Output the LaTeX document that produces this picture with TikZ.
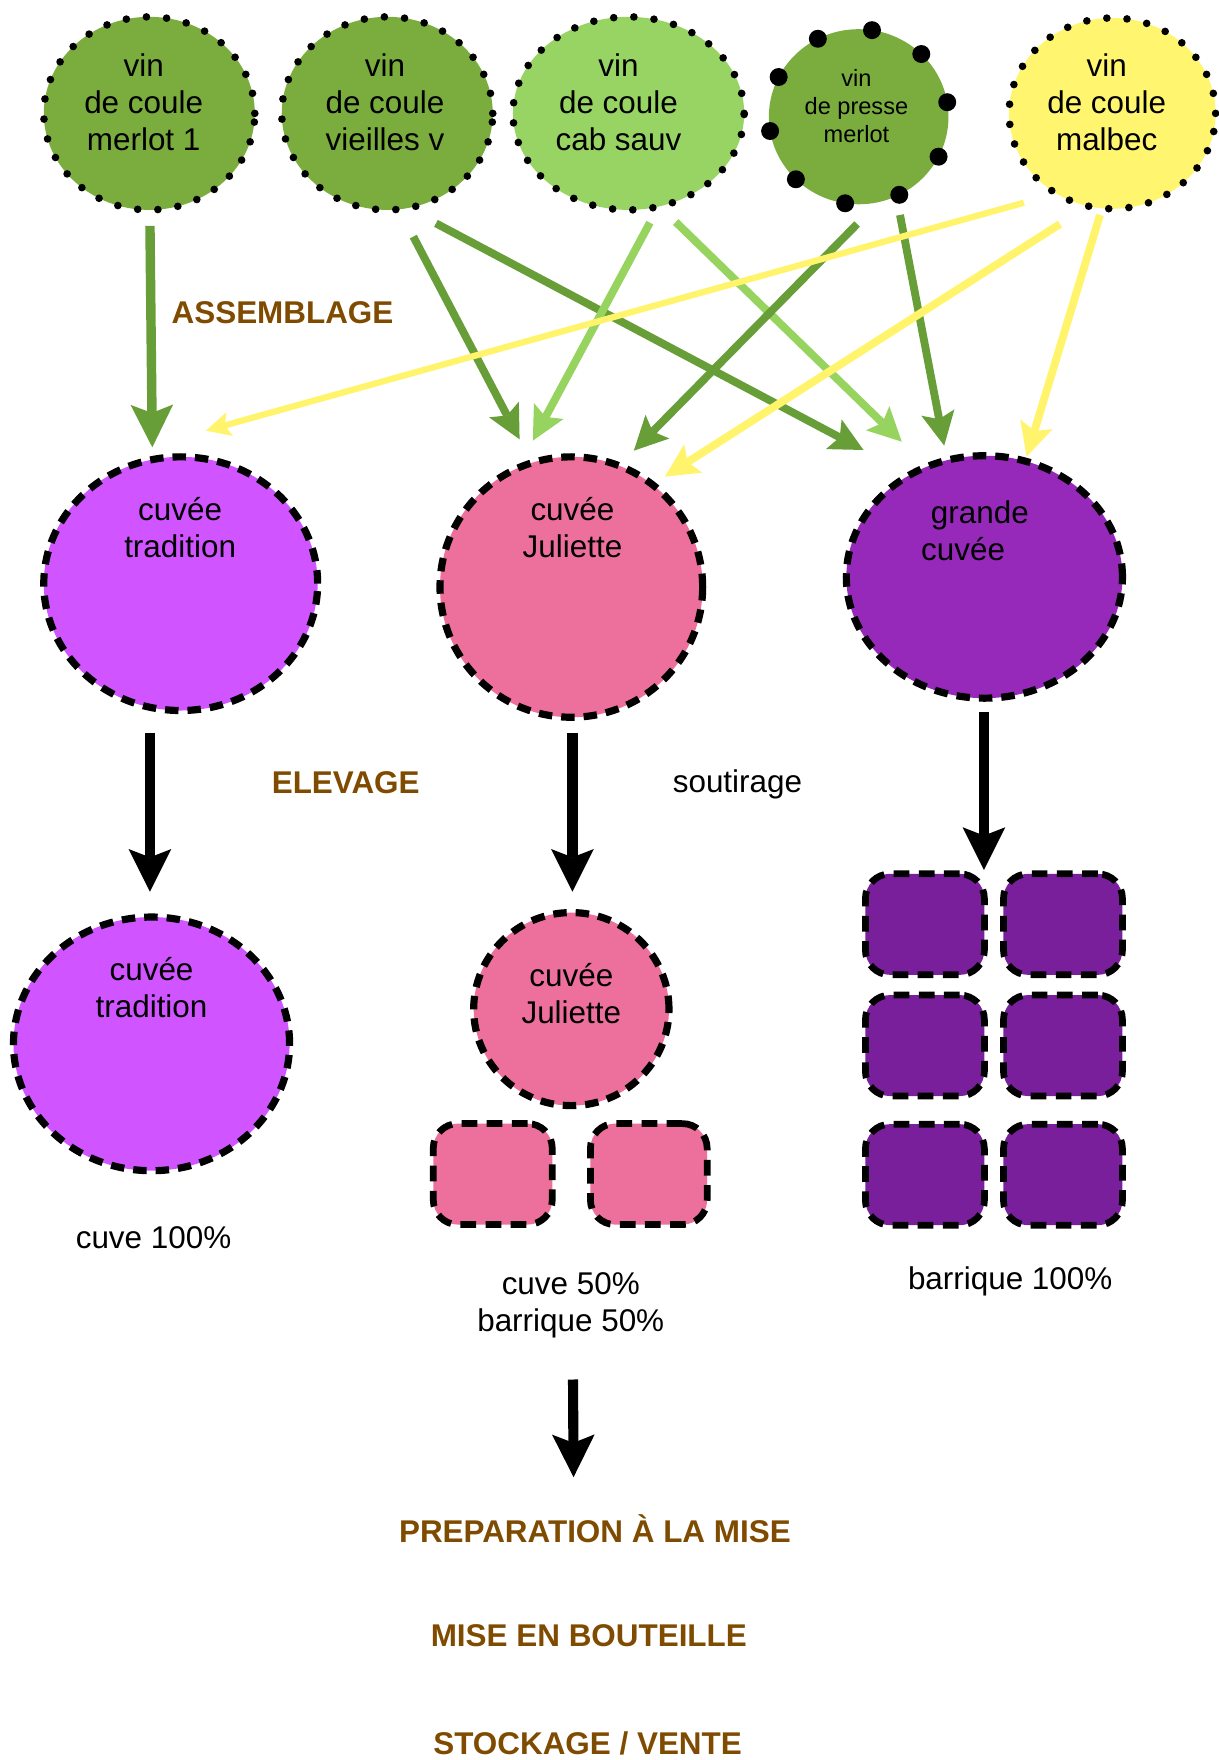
\documentclass[tikz,border=0pt]{standalone}
\usepackage{fontspec}
\setmainfont{Liberation Sans}
\usetikzlibrary{arrows.meta,shapes.geometric}
\definecolor{cdg}{HTML}{7AAD3D}
\definecolor{clg}{HTML}{97D464}
\definecolor{cyl}{HTML}{FFF56E}
\definecolor{ctrad}{HTML}{D054FF}
\definecolor{cjul}{HTML}{ED6F9B}
\definecolor{cgc}{HTML}{9729BA}
\definecolor{cbar}{HTML}{7A1F9C}
\definecolor{cga}{HTML}{689E38}
\definecolor{cla}{HTML}{97D45F}
\definecolor{cya}{HTML}{FFF46B}
\definecolor{cbr}{HTML}{7F4B00}
\begin{document}
\begin{tikzpicture}[x=0.5pt,y=-0.5pt,
  vin/.style={ellipse, draw=black, line width=3.4pt, dash pattern=on 0pt off 9pt, line cap=round, inner sep=0pt},
  presse/.style={ellipse, draw=black, line width=8pt, dash pattern=on 0pt off 24.8pt, dash phase=18.3pt, line cap=round, inner sep=0pt},
  cuve/.style={ellipse, draw=black, line width=3.2pt, dash pattern=on 6pt off 4pt, inner sep=0pt},
  barrique/.style={rectangle, draw=black, line width=3pt, dash pattern=on 7pt off 4.2pt, rounded corners=11pt, minimum width=53pt, minimum height=45pt, inner sep=0pt},
  txt/.style={align=center, font=\fontsize{14pt}{16.5pt}\selectfont, inner sep=0pt},
  txts/.style={align=center, font=\fontsize{10.5pt}{12.65pt}\selectfont, inner sep=0pt},
  btxt/.style={align=center, font=\fontsize{14pt}{16.5pt}\selectfont\bfseries, text=cbr, inner sep=0pt},
  gbig/.style={draw=cga, line width=4.2pt, -{Stealth[length=19pt,width=19pt,inset=3.7pt,line width=0pt]}},
  garr/.style={draw=cga, line width=3.5pt, -{Stealth[length=15pt,width=15pt,inset=3pt,line width=0pt]}},
  larr/.style={draw=cla, line width=3.5pt, -{Stealth[length=15pt,width=15pt,inset=3pt,line width=0pt]}},
  yarr/.style={draw=cya, line width=3.5pt, -{Stealth[length=15pt,width=15pt,inset=3pt,line width=0pt]}},
  ythin/.style={draw=cya, line width=2.8pt, -{Stealth[length=11pt,width=11pt,inset=2.3pt,line width=0pt]}},
  barr/.style={draw=black, line width=4.5pt, -{Stealth[length=19pt,width=19pt,inset=3.7pt,line width=0pt]}}
]
\useasboundingbox (0,0) rectangle (1086,1568);

% top row: wines
\node[vin, fill=cdg, minimum width=94pt, minimum height=86pt] (m1) at (133,101) {};
\node[vin, fill=cdg, minimum width=94pt, minimum height=86pt] (vv) at (345,101) {};
\node[vin, fill=clg, minimum width=103pt, minimum height=86pt] (cab) at (560,101) {};
\node[presse, fill=cdg, minimum width=80pt, minimum height=78pt] (pr) at (765,104) {};
\node[vin, fill=cyl, minimum width=92pt, minimum height=85pt] (mb) at (991,101) {};

\node[txt] (m1t) at (128,94.4) {\strut vin\\\strut de coule\hspace*{8pt}\\\strut merlot 1};
\node[txt] (vvt) at (343,94.4) {\strut vin\\\strut de coule\hspace*{10.5pt}\\\strut vieilles v};
\node[txt] (cabt) at (551,94.4) {\strut vin\\\strut de coule\hspace*{11.5pt}\\\strut cab sauv};
\node[txts] (prt) at (763,97) {\strut vin\\\strut de presse\\\strut merlot};
\node[txt] (mbt) at (986,94.4) {\strut vin\\\strut de coule\hspace*{7.3pt}\\\strut malbec};

% middle row: cuvees
\node[cuve, fill=ctrad, minimum width=122pt, minimum height=113pt] (trad) at (161,520) {};
\node[cuve, fill=cjul, minimum width=117pt, minimum height=116pt] (jul) at (509,523) {};
\node[cuve, fill=cgc, minimum width=123pt, minimum height=108pt] (gc) at (877,514) {};
\node[txt] (tradt) at (160.5,473.5) {\strut cuvée\\\strut tradition};
\node[txt] (jult) at (510,473.5) {\strut cuvée\\\strut Juliette};
\node[txt] (gct) at (873,476) {\strut grande\\\strut cuvée\hspace*{15pt}};

% bottom row
\node[cuve, fill=ctrad, minimum width=123pt, minimum height=113pt] (trad2) at (135,930) {};
\node[txt] (trad2t) at (135,883.2) {\strut cuvée\\\strut tradition};
\node[cuve, fill=cjul, minimum width=87pt, minimum height=86pt] (jul2) at (509,899) {};
\node[txt] (jul2t) at (509,888.4) {\strut cuvée\\\strut Juliette};
\node[barrique, fill=cjul] (pb1) at (439,1046) {};
\node[barrique, fill=cjul, minimum width=52pt] (pb2) at (578,1046) {};
\node[barrique, fill=cbar] (b11) at (824,823.5) {};
\node[barrique, fill=cbar] (b12) at (947,823.5) {};
\node[barrique, fill=cbar] (b21) at (824,931.5) {};
\node[barrique, fill=cbar] (b22) at (947,931.5) {};
\node[barrique, fill=cbar] (b31) at (824,1046.5) {};
\node[barrique, fill=cbar] (b32) at (947,1046.5) {};

% labels
\node[btxt] (lass) at (251.7,281.4) {\strut ASSEMBLAGE};
\node[btxt] (lelev) at (308,700.2) {\strut ELEVAGE};
\node[txt] (lsout) at (657,699) {\strut soutirage};
\node[txt] (l100) at (136.8,1105.4) {\strut cuve 100\%};
\node[txt] (l50) at (508.5,1163.4) {\strut cuve 50\%\\\strut barrique 50\%};
\node[txt] (lb100) at (900,1142) {\strut barrique 100\%};
\node[btxt] (lprep) at (530,1366.8) {\strut PREPARATION À LA MISE};
\node[btxt] (lmise) at (524.6,1460.4) {\strut MISE EN BOUTEILLE};
\node[btxt] (lstock) at (523.5,1556.8) {\strut STOCKAGE / VENTE};

% assemblage arrows
\draw[gbig] ([shift={(0.6,100.3)}]m1.center) -- ([shift={(-25.3,-121.5)}]trad.center);
\draw[garr] ([shift={(23.2,109.8)}]vv.center) -- ([shift={(-46.1,-131.6)}]jul.center);
\draw[garr] ([shift={(43.4,98)}]vv.center) -- ([shift={(-107.7,-113.1)}]gc.center);
\draw[larr] ([shift={(19,97.4)}]cab.center) -- ([shift={(-34.3,-130.4)}]jul.center);
\draw[larr] ([shift={(42,96.8)}]cab.center) -- ([shift={(-73.6,-120.5)}]gc.center);
\draw[garr] ([shift={(-1.4,95.6)}]pr.center) -- ([shift={(55.7,-121.5)}]jul.center);
\draw[garr] ([shift={(36.8,87.5)}]pr.center) -- ([shift={(-35.8,-117)}]gc.center);
\draw[ythin] ([shift={(-78.8,79.6)}]mb.center) -- ([shift={(22.5,-136.3)}]trad.center);
\draw[yarr] ([shift={(-46.7,98.6)}]mb.center) -- ([shift={(83.4,-98.4)}]jul.center);
\draw[yarr] ([shift={(-11,90.5)}]mb.center) -- ([shift={(37.6,-107.2)}]gc.center);

% elevage arrows
\draw[barr] ([shift={(-27.4,132.7)}]trad.center) -- ([shift={(-1.4,-135.6)}]trad2.center);
\draw[barr] ([shift={(1,129.7)}]jul.center) -- ([shift={(1,-104.6)}]jul2.center);
\draw[barr] ([shift={(-0.4,120)}]gc.center) -- ([shift={(52.6,-48.5)}]b11.center);
\draw[barr] ([shift={(2,65.6)}]l50.center) -- ([shift={(-19,-50.8)}]lprep.center);
\end{tikzpicture}
\end{document}
